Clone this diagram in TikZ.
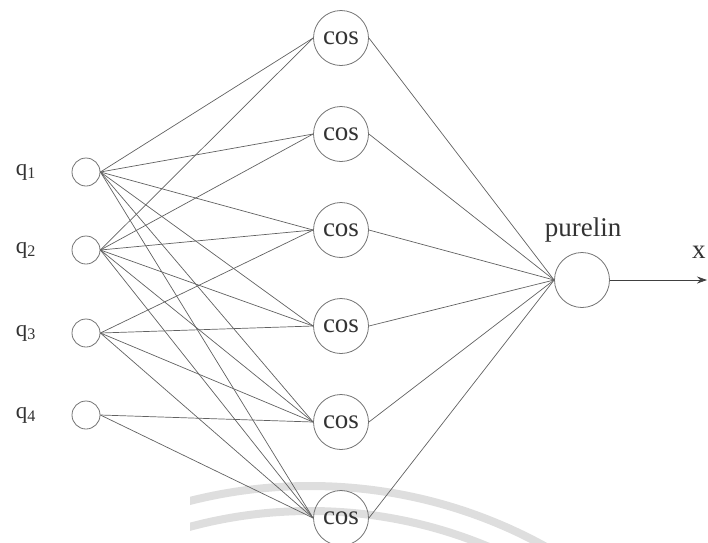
\documentclass[tikz,border=0pt]{standalone}
\usepackage{fontspec}
\setmainfont{Liberation Serif}
\usetikzlibrary{arrows.meta}
\begin{document}
\begin{tikzpicture}[x=1pt,y=-1pt,
  inp/.style={circle,draw=black!55,line width=0.8pt,minimum size=28pt,inner sep=0pt},
  hid/.style={circle,draw=black!55,line width=0.8pt,minimum size=55pt,inner sep=0pt,font=\fontsize{27}{30}\selectfont,text=black!80},
  lbl/.style={font=\fontsize{27}{30}\selectfont,text=black!80,inner sep=0pt},
  qlbl/.style={font=\fontsize{23}{26}\selectfont,text=black!80,inner sep=0pt},
  wire/.style={draw=black!62,line width=0.7pt},
  wmark/.style={draw=black!13,line width=8pt}]
\useasboundingbox (0,0) rectangle (708,542);
% faint watermark arcs
\begin{scope}
  \clip (190,0) rectangle (708,542);
  \draw[wmark] (310,973) circle[radius=487];
  \draw[wmark] (310,973) circle[radius=462];
\end{scope}
% input layer
\foreach \i/\y in {1/172,2/250,3/333,4/415}{
  \node[inp] (q\i) at (86,\y) {};
  \node[qlbl,anchor=base] (ql\i) at (26,\y+3) {q\textsubscript{\i}};
}
% hidden layer
\foreach \i/\y in {1/38,2/134,3/230,4/326,5/422,6/518}{
  \node[hid] (c\i) at (341,\y) {cos};
}
% output
\node[hid] (o) at (582,280) {};
\node[lbl,anchor=base] (ol) at (583,236) {purelin};
\coordinate (xe) at (707,280);
\node[lbl,anchor=base west] (xl) at (692,258) {x};
% connections
\foreach \j in {1,...,6}{
  \draw[wire] (q1.east) -- (c\j.west);
  \draw[wire] (q2.east) -- (c\j.west);
  \draw[wire] (c\j.east) -- (o.west);
}
\foreach \j in {3,...,6}{
  \draw[wire] (q3.east) -- (c\j.west);
}
\foreach \j in {5,6}{
  \draw[wire] (q4.east) -- (c\j.west);
}
\draw[wire,draw=black!75,-{Stealth[length=10pt,width=7pt]}] (o.east) -- (xe);
\end{tikzpicture}
\end{document}
